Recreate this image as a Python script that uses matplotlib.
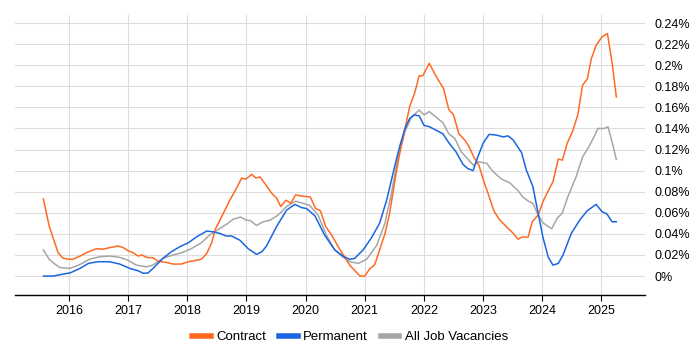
import matplotlib
matplotlib.use("Agg")
import matplotlib.pyplot as plt
from matplotlib.ticker import FuncFormatter, MultipleLocator

plt.rcParams['font.family'] = ['Liberation Sans', 'DejaVu Sans']

# decimal years and % of all UK vacancies
contract_t = [2015.57, 2015.67, 2015.73, 2015.82, 2015.90, 2015.99, 2016.07, 2016.19, 2016.33, 2016.47,
              2016.58, 2016.69, 2016.83, 2016.92, 2017.00, 2017.09, 2017.17, 2017.24, 2017.31, 2017.42,
              2017.51, 2017.65, 2017.76, 2017.90, 2018.02, 2018.16, 2018.24, 2018.33, 2018.41, 2018.48,
              2018.61, 2018.72, 2018.83, 2018.92, 2018.99, 2019.09, 2019.16, 2019.23, 2019.31, 2019.42,
              2019.51, 2019.58, 2019.67, 2019.75, 2019.83, 2019.93, 2020.08, 2020.17, 2020.25, 2020.34,
              2020.44, 2020.55, 2020.66, 2020.75, 2020.92, 2021.00, 2021.08, 2021.17, 2021.25, 2021.34,
              2021.42, 2021.51, 2021.59, 2021.68, 2021.76, 2021.84, 2021.92, 2021.98, 2022.09, 2022.21,
              2022.33, 2022.42, 2022.50, 2022.59, 2022.69, 2022.76, 2022.85, 2022.93, 2023.01, 2023.08,
              2023.18, 2023.27, 2023.39, 2023.51, 2023.59, 2023.66, 2023.76, 2023.83, 2023.93, 2024.01,
              2024.11, 2024.18, 2024.27, 2024.34, 2024.42, 2024.51, 2024.60, 2024.68, 2024.76, 2024.83,
              2024.91, 2025.01, 2025.10, 2025.18, 2025.25]
contract_v = [0.073, 0.047, 0.037, 0.022, 0.017, 0.016, 0.016, 0.019, 0.023, 0.026,
              0.0255, 0.027, 0.0285, 0.027, 0.024, 0.022, 0.019, 0.020, 0.0177, 0.0174,
              0.014, 0.013, 0.0114, 0.0114, 0.0136, 0.015, 0.016, 0.0215, 0.031, 0.045,
              0.0595, 0.072, 0.083, 0.093, 0.092, 0.0965, 0.093, 0.094, 0.088, 0.079,
              0.074, 0.066, 0.072, 0.069, 0.077, 0.076, 0.075, 0.064, 0.062, 0.047,
              0.039, 0.028, 0.018, 0.010, 0.0, 0.0, 0.0065, 0.011, 0.0247, 0.040,
              0.0595, 0.091, 0.116, 0.140, 0.161, 0.173, 0.190, 0.190, 0.2018, 0.189,
              0.178, 0.158, 0.153, 0.135, 0.129, 0.123, 0.112, 0.105, 0.090, 0.079,
              0.062, 0.054, 0.047, 0.0405, 0.035, 0.037, 0.037, 0.0515, 0.058, 0.0705,
              0.082, 0.0895, 0.111, 0.110, 0.126, 0.137, 0.153, 0.181, 0.187, 0.2065,
              0.219, 0.227, 0.230, 0.202, 0.170]

perm_t = [2015.57, 2015.73, 2015.88, 2016.02, 2016.19, 2016.33, 2016.49, 2016.69, 2016.86, 2017.03,
          2017.17, 2017.26, 2017.34, 2017.45, 2017.59, 2017.73, 2017.88, 2018.02, 2018.16, 2018.33,
          2018.44, 2018.55, 2018.66, 2018.75, 2018.89, 2019.03, 2019.17, 2019.26, 2019.34, 2019.51,
          2019.68, 2019.82, 2019.93, 2020.02, 2020.16, 2020.32, 2020.49, 2020.63, 2020.75, 2020.83,
          2020.97, 2021.11, 2021.25, 2021.37, 2021.51, 2021.59, 2021.68, 2021.76, 2021.84, 2021.92,
          2022.00, 2022.09, 2022.20, 2022.32, 2022.42, 2022.54, 2022.66, 2022.74, 2022.83, 2022.91,
          2023.00, 2023.10, 2023.22, 2023.34, 2023.42, 2023.51, 2023.65, 2023.73, 2023.84, 2023.93,
          2024.01, 2024.10, 2024.18, 2024.27, 2024.35, 2024.49, 2024.63, 2024.76, 2024.91, 2025.01,
          2025.09, 2025.18, 2025.25]
perm_v = [0.0, 0.0, 0.0016, 0.003, 0.0073, 0.012, 0.0136, 0.0136, 0.0114, 0.0073,
          0.005, 0.0026, 0.003, 0.0088, 0.0168, 0.023, 0.028, 0.0316, 0.0373, 0.0427,
          0.042, 0.0405, 0.038, 0.038, 0.034, 0.026, 0.0206, 0.023, 0.0285, 0.047,
          0.0626, 0.068, 0.065, 0.064, 0.057, 0.039, 0.025, 0.019, 0.0158, 0.0168,
          0.0247, 0.036, 0.050, 0.072, 0.105, 0.123, 0.140, 0.1496, 0.1528, 0.152,
          0.143, 0.1417, 0.1385, 0.135, 0.1265, 0.118, 0.106, 0.102, 0.100, 0.113,
          0.126, 0.1344, 0.1338, 0.132, 0.133, 0.129, 0.117, 0.1006, 0.085, 0.0595,
          0.037, 0.018, 0.0104, 0.012, 0.020, 0.0405, 0.053, 0.062, 0.068, 0.061,
          0.059, 0.0515, 0.0515]

all_t = [2015.57, 2015.67, 2015.75, 2015.85, 2016.02, 2016.19, 2016.35, 2016.52, 2016.69, 2016.86,
         2017.00, 2017.14, 2017.31, 2017.42, 2017.59, 2017.76, 2017.90, 2018.07, 2018.24, 2018.38,
         2018.52, 2018.66, 2018.78, 2018.90, 2019.00, 2019.07, 2019.17, 2019.28, 2019.40, 2019.54,
         2019.68, 2019.83, 2019.93, 2020.07, 2020.21, 2020.35, 2020.49, 2020.63, 2020.75, 2020.89,
         2021.03, 2021.20, 2021.34, 2021.45, 2021.56, 2021.68, 2021.79, 2021.92, 2022.00, 2022.09,
         2022.20, 2022.32, 2022.42, 2022.52, 2022.63, 2022.74, 2022.84, 2022.91, 2023.06, 2023.17,
         2023.31, 2023.45, 2023.59, 2023.67, 2023.78, 2023.84, 2023.93, 2024.01, 2024.10, 2024.16,
         2024.25, 2024.34, 2024.43, 2024.57, 2024.68, 2024.77, 2024.86, 2024.94, 2025.05, 2025.11,
         2025.18, 2025.25]
all_v = [0.0247, 0.0158, 0.012, 0.008, 0.0073, 0.011, 0.016, 0.0183, 0.019, 0.0177,
         0.015, 0.0104, 0.0088, 0.0104, 0.0168, 0.020, 0.022, 0.026, 0.0316, 0.039,
         0.044, 0.049, 0.054, 0.056, 0.053, 0.0525, 0.048, 0.0515, 0.053, 0.058,
         0.066, 0.071, 0.0695, 0.067, 0.058, 0.039, 0.025, 0.018, 0.0136, 0.012,
         0.0158, 0.029, 0.050, 0.0785, 0.112, 0.137, 0.151, 0.1575, 0.153, 0.156,
         0.151, 0.1455, 0.135, 0.1306, 0.118, 0.111, 0.105, 0.1085, 0.107, 0.099,
         0.092, 0.0885, 0.081, 0.075, 0.0705, 0.069, 0.058, 0.0506, 0.047, 0.045,
         0.0547, 0.060, 0.075, 0.094, 0.113, 0.121, 0.1306, 0.140, 0.140, 0.1417,
         0.127, 0.1107]

years = list(range(2016, 2026))

fig = plt.figure(figsize=(7, 3.5), dpi=100)
ax = fig.add_axes([0.0214, 0.157, 0.8996, 0.8])

ax.plot(contract_t, contract_v, color='#ff6a22', lw=1.1, label='Contract', zorder=3)
ax.plot(perm_t, perm_v, color='#1a66e0', lw=1.1, label='Permanent', zorder=3)
ax.plot(all_t, all_v, color='#a6a6a6', lw=1.1, label='All Job Vacancies', zorder=2)

ax.set_xlim(2015.09, 2025.73)
ax.set_ylim(-0.018, 0.2476)
ax.set_xticks(years)
ax.set_xticklabels([str(y) for y in years])
ax.yaxis.set_major_locator(MultipleLocator(0.02))
ax.yaxis.set_major_formatter(FuncFormatter(lambda v, p: f'{round(v, 4):g}%'))
ax.yaxis.tick_right()
ax.tick_params(axis='y', length=0, pad=7, labelsize=9)
ax.tick_params(axis='x', length=4, width=0.8, color='black', labelsize=9, pad=3)
ax.grid(True, color='#dddddd', lw=0.8)
ax.set_axisbelow(True)
for s in ['top', 'left', 'right']:
    ax.spines[s].set_visible(False)
ax.spines['bottom'].set_color('black')
ax.spines['bottom'].set_linewidth(1)

leg = fig.legend(loc='lower center', bbox_to_anchor=(0.5, -0.015), ncol=3, frameon=False,
                 fontsize=9.5, handlelength=1.4, handletextpad=0.4, columnspacing=1.0)
for line in leg.get_lines():
    line.set_linewidth(4)

fig.savefig('out.png', dpi=100)
